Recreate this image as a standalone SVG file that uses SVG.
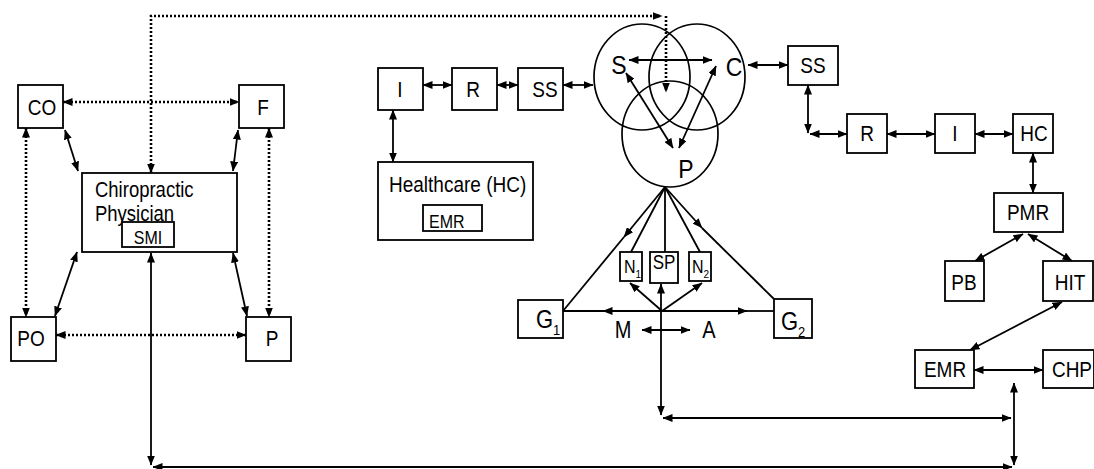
<svg xmlns="http://www.w3.org/2000/svg" width="1094" height="469" viewBox="0 0 1094 469">
<style>
text{font-family:"Liberation Sans",Arial,sans-serif;fill:#000;transform-box:fill-box;transform-origin:center;transform:scaleY(1.15)}
.t{font-size:19px;text-anchor:middle}
.ts{font-size:16px;text-anchor:middle}
.big{font-size:23px;text-anchor:middle}
.lab{font-size:18.5px}
.box{fill:#fff;stroke:#000;stroke-width:1.8}
.circ{fill:none;stroke:#000;stroke-width:1.7}
.c{fill:none;stroke:#000;stroke-width:1.8}
.d{fill:none;stroke:#000;stroke-width:2.6;stroke-dasharray:2 2}
.b{marker-start:url(#ah);marker-end:url(#ah)}
.e{marker-end:url(#ah)}
</style>
<defs>
<marker id="ah" markerUnits="userSpaceOnUse" markerWidth="10" markerHeight="8" refX="9.5" refY="4" orient="auto-start-reverse" viewBox="0 0 10 8">
<path d="M0,0 L10,4 L0,8 z" fill="#000"/>
</marker>
</defs>
<g id="connectors">
<path class="d b" d="M63,102 L239,102"/>
<path class="d b" d="M26,128 L26,317"/>
<path class="d b" d="M269,128 L269,317"/>
<path class="d b" d="M56,335 L246,335"/>
<path class="d b" d="M151,173 L151,16 L662,16"/>
<path class="d e" d="M666,16 L666,92"/>
<path class="c b" d="M65,130 L78,171"/>
<path class="c b" d="M238,130 L233,171"/>
<path class="c b" d="M77,252 L55,316"/>
<path class="c b" d="M233,253 L247,316"/>
<path class="c b" d="M151,253 L151,465"/>
<path class="c b" d="M153,467 L1012,467"/>
<path class="c b" d="M1014,383 L1014,465"/>
<path class="c b" d="M663,418 L1011,418"/>
<path class="c b" d="M661,284 L661,415"/>
<path class="c b" d="M423,85 L452,85"/>
<path class="c b" d="M497,85 L518,85"/>
<path class="c b" d="M563,85 L593,85"/>
<path class="c b" d="M393,110 L393,162"/>
<path class="c b" d="M629,60 L712,60"/>
<path class="c b" d="M626,73 L673,148"/>
<path class="c b" d="M716,66 L679,148"/>
<path class="c b" d="M748,65 L788,65"/>
<path class="c b" d="M808,85 L808,133"/>
<path class="c b" d="M810,134 L847,134"/>
<path class="c b" d="M887,134 L935,134"/>
<path class="c b" d="M975,134 L1013,134"/>
<path class="c b" d="M1033,153 L1033,193"/>
<path class="c b" d="M1023,234 L975,261"/>
<path class="c b" d="M1028,234 L1072,261"/>
<path class="c b" d="M1062,302 L970,350"/>
<path class="c b" d="M974,370 L1043,370"/>
<path class="c e" d="M665,187 L624,237"/>
<path class="c" d="M624,237 L563,311"/>
<path class="c" d="M665,187 L631,252"/>
<path class="c" d="M665,187 L665,253"/>
<path class="c" d="M665,187 L700,252"/>
<path class="c e" d="M665,187 L702,228"/>
<path class="c" d="M702,228 L774,299"/>
<path class="c e" d="M662,311 L603,311"/>
<path class="c" d="M603,311 L563,311"/>
<path class="c e" d="M662,311 L747,311"/>
<path class="c" d="M747,311 L774,311"/>
<path class="c e" d="M662,311 L630,283"/>
<path class="c e" d="M662,311 L702,283"/>
<path class="c b" d="M642,330 L690,330"/>
</g>
<g id="CO"><rect class="box" x="18" y="85" width="45" height="43"/><text class="t" x="42" y="114">CO</text></g>
<g id="F"><rect class="box" x="239" y="85" width="45" height="43"/><text class="t" x="263" y="114">F</text></g>
<g id="PO"><rect class="box" x="11" y="317" width="45" height="44"/><text class="t" x="31" y="345">PO</text></g>
<g id="P"><rect class="box" x="246" y="317" width="45" height="44"/><text class="t" x="272" y="345">P</text></g>
<g id="chiro"><rect class="box" x="82" y="173" width="155" height="79"/>
<text class="lab" x="95" y="196">Chiropractic</text>
<text class="lab" x="95" y="220">Physician</text></g>
<g id="SMI"><rect class="box" x="122" y="222" width="52" height="25"/><text class="ts" x="148" y="243">SMI</text></g>
<g id="I1"><rect class="box" x="378" y="68" width="45" height="42"/><text class="t" x="400" y="96">I</text></g>
<g id="R1"><rect class="box" x="452" y="68" width="45" height="42"/><text class="t" x="473" y="96">R</text></g>
<g id="SS1"><rect class="box" x="518" y="68" width="45" height="42"/><text class="t" x="545" y="96">SS</text></g>
<g id="HC1"><rect class="box" x="378" y="162" width="155" height="78"/>
<text x="389" y="191" style="font-size:19px">Healthcare (HC)</text></g>
<g id="EMR1"><rect class="box" x="423" y="205" width="59" height="26"/><text x="429" y="227" style="font-size:16px">EMR</text></g>
<g id="S"><ellipse class="circ" cx="642" cy="77" rx="48" ry="53"/><text class="big" x="619" y="73">S</text></g>
<g id="C"><ellipse class="circ" cx="697" cy="77" rx="48" ry="53"/><text class="big" x="734" y="75">C</text></g>
<g id="Pc"><ellipse class="circ" cx="670" cy="134" rx="48" ry="53"/><text class="big" x="686" y="177">P</text></g>
<g id="SS2"><rect class="box" x="788" y="46" width="50" height="39"/><text class="t" x="813" y="72">SS</text></g>
<g id="R2"><rect class="box" x="847" y="114" width="40" height="39"/><text class="t" x="867" y="140">R</text></g>
<g id="I2"><rect class="box" x="935" y="114" width="40" height="39"/><text class="t" x="955" y="140">I</text></g>
<g id="HC2"><rect class="box" x="1013" y="114" width="40" height="39"/><text class="t" x="1034" y="140">HC</text></g>
<g id="PMR"><rect class="box" x="994" y="193" width="69" height="39"/><text class="t" x="1028" y="219">PMR</text></g>
<g id="PB"><rect class="box" x="945" y="261" width="39" height="40"/><text class="t" x="964" y="289">PB</text></g>
<g id="HIT"><rect class="box" x="1043" y="261" width="50" height="40"/><text class="t" x="1070" y="289">HIT</text></g>
<g id="EMR2"><rect class="box" x="915" y="350" width="59" height="38"/><text class="t" x="945" y="376">EMR</text></g>
<g id="CHP"><rect class="box" x="1043" y="350" width="51" height="38"/><text class="t" x="1072" y="376">CHP</text></g>
<g id="G1"><rect class="box" x="518" y="300" width="45" height="38"/><text x="536" y="327" style="font-size:22px">G<tspan style="font-size:13px" dy="6">1</tspan></text></g>
<g id="G2"><rect class="box" x="774" y="299" width="38" height="39"/><text x="781" y="329" style="font-size:22px">G<tspan style="font-size:13px" dy="6">2</tspan></text></g>
<g id="N1"><rect class="box" x="620" y="252" width="22" height="29"/><text x="624" y="272" style="font-size:16px">N<tspan style="font-size:10px" dy="5">1</tspan></text></g>
<g id="SP"><rect class="box" x="650" y="252" width="28" height="31"/><text x="664" y="268" style="font-size:17px;text-anchor:middle">SP</text></g>
<g id="N2"><rect class="box" x="689" y="252" width="22" height="29"/><text x="692" y="272" style="font-size:16px">N<tspan style="font-size:10px" dy="5">2</tspan></text></g>
<g id="M"><text x="623" y="337" style="font-size:20px;text-anchor:middle">M</text></g>
<g id="A"><text x="709" y="337" style="font-size:20px;text-anchor:middle">A</text></g>
</svg>
